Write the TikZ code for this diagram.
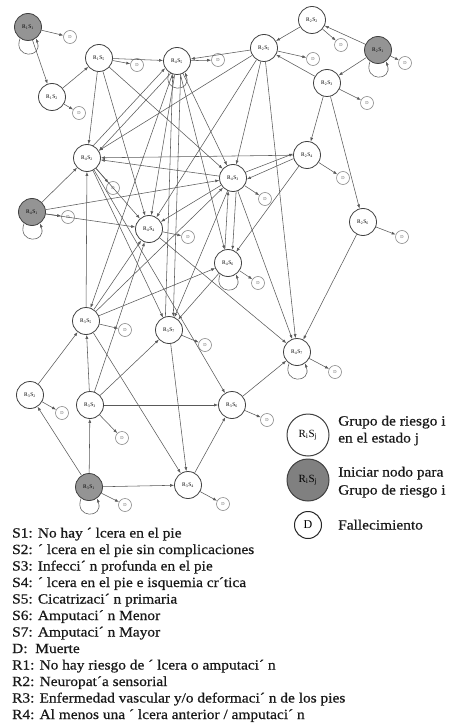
\documentclass[tikz,border=0pt]{standalone}
\usepackage{fontspec}
\setmainfont{Liberation Serif}[FakeStretch=1.1,FakeBold=0.6]
\newfontfamily\lblfont{Liberation Serif}
\usetikzlibrary{arrows.meta}
\newcommand\rsl[2]{R\textsubscript{#1}S\textsubscript{#2}}
\tikzset{
  st/.style={circle, draw=black!75, line width=0.8pt, fill=white, minimum size=27pt, inner sep=0pt, font=\lblfont\fontsize{5.5}{6}\selectfont},
  ini/.style={st, fill=black!42},
  dd/.style={circle, draw=black!45, line width=0.6pt, fill=white, minimum size=13pt, inner sep=0pt, font=\lblfont\fontsize{4.5}{5}\selectfont, text=black!60},
  arr/.style={draw=black!65, line width=0.55pt, -{Latex[length=4pt,width=3pt]}},
  lp/.style={arr, out=-110, in=-70, looseness=3.5},
  txt/.style={anchor=base west, inner sep=0pt, font=\fontsize{14}{16}\selectfont, text=black!90},
}
\begin{document}
\begin{tikzpicture}[x=1pt,y=1pt]
\useasboundingbox (0,0) rectangle (450,-727);
% nodes
\node[ini] (g1) at (28,-27) {\rsl11};
\node[dd] (dg1) at (70,-37) {D};
\node[st] (a) at (52,-97) {\rsl12};
\node[dd] (da) at (79,-113) {D};
\node[st] (b) at (99,-58) {\rsl15};
\node[dd] (db) at (137,-65) {D};
\node[st] (c) at (177,-61) {\rsl45};
\node[dd] (dc) at (218,-60) {D};
\node[st] (e) at (312,-20) {\rsl22};
\node[dd] (de) at (341,-45) {D};
\node[st] (f) at (264,-48) {\rsl25};
\node[dd] (df) at (313,-59) {D};
\node[ini] (g2) at (378,-50) {\rsl21};
\node[dd] (dg2) at (405,-63) {D};
\node[st] (h) at (327,-83) {\rsl23};
\node[dd] (dh) at (367,-103) {D};
\node[st] (i) at (307,-155) {\rsl24};
\node[dd] (di) at (343,-178) {D};
\node[st] (j) at (363,-222) {\rsl26};
\node[dd] (dj) at (402,-237) {D};
\node[st] (k) at (87,-158) {\rsl42};
\node[dd] (dk) at (113,-188) {D};
\node[ini] (g3) at (32,-212) {\rsl41};
\node[dd] (dg3) at (68,-217) {D};
\node[st] (l) at (149,-229) {\rsl44};
\node[dd] (dl) at (188,-237) {D};
\node[st] (m) at (233,-178) {\rsl43};
\node[dd] (dm) at (265,-199) {D};
\node[st] (n) at (228,-263) {\rsl46};
\node[dd] (dn) at (258,-283) {D};
\node[st] (o) at (86,-321) {\rsl35};
\node[dd] (do) at (125,-330) {D};
\node[st] (p) at (169,-330) {\rsl37};
\node[dd] (dp) at (205,-345) {D};
\node[st] (t) at (297,-352) {\rsl47};
\node[dd] (dt) at (335,-372) {D};
\node[st] (q) at (30,-395) {\rsl32};
\node[dd] (dq) at (62,-413) {D};
\node[st] (r) at (90,-405) {\rsl33};
\node[dd] (dr) at (122,-438) {D};
\node[st] (s) at (232,-405) {\rsl36};
\node[dd] (ds) at (267,-420) {D};
\node[ini] (g4) at (89,-487) {\rsl31};
\node[dd] (dg4) at (125,-505) {D};
\node[st] (u) at (188,-485) {\rsl34};
\node[dd] (du) at (223,-504) {D};
% loops
\draw[lp] (g1.-125) to (g1.-55);
\draw[lp] (g2.-125) to (g2.-55);
\draw[lp] (g3.-125) to (g3.-55);
\draw[lp] (g4.-125) to (g4.-55);
\draw[lp] (c.-125) to (c.-55);
\draw[lp] (n.-125) to (n.-55);
\draw[lp] (t.-125) to (t.-55);
% death arrows
\foreach \x in {g1,a,b,c,e,f,g2,h,i,j,k,g3,l,m,n,o,p,t,q,r,s,g4,u}
  \draw[arr] (\x) -- (d\x);
% transitions
\draw[arr] (g1) -- (a);
\draw[arr] (a) -- (b);
\draw[arr] (b) -- (c);
\draw[arr] (b) -- (k);
\draw[arr] (b) -- (l);
\draw[arr] (b) -- (m);
\draw[arr] (c.243) -- (k.31);
\draw[arr] (k.63) -- (c.211);
\draw[arr] (c.-75) -- (p.72);
\draw[arr] (p.105) -- (c.-108);
\draw[arr] (c) -- (o);
\draw[arr] (c) -- (l);
\draw[arr] (c) -- (m);
\draw[arr] (c) -- (n);
\draw[arr] (g2) -- (e);
\draw[arr] (g2) -- (h);
\draw[arr] (e) -- (f);
\draw[arr] (h) -- (f);
\draw[arr] (h) -- (i);
\draw[arr] (h) -- (j);
\draw[arr] (f) -- (c);
\draw[arr] (f) -- (k);
\draw[arr] (f) -- (l);
\draw[arr] (f) -- (m);
\draw[arr] (f) -- (t);
\draw[arr] (i) -- (k);
\draw[arr] (i.195) -- (m.-5);
\draw[arr] (m.25) -- (i.175);
\draw[arr] (i) -- (n);
\draw[arr] (j) -- (t);
\draw[arr] (g3) -- (k);
\draw[arr] (g3) -- (m);
\draw[arr] (g3) -- (l);
\draw[arr] (k) -- (l);
\draw[arr] (k) -- (p);
\draw[arr] (k) -- (s);
\draw[arr] (m) -- (k);
\draw[arr] (m) -- (l);
\draw[arr] (m.-77) -- (n.71);
\draw[arr] (n.103) -- (m.-110);
\draw[arr] (m) -- (t);
\draw[arr] (m) -- (p);
\draw[arr] (l) -- (t);
\draw[arr] (n) -- (p);
\draw[arr] (o) -- (k);
\draw[arr] (o) -- (l);
\draw[arr] (o) -- (m);
\draw[arr] (o) -- (n);
\draw[arr] (o) -- (u);
\draw[arr] (p) -- (u);
\draw[arr] (q) -- (o);
\draw[arr] (r) -- (o);
\draw[arr] (r) -- (l);
\draw[arr] (r) -- (p);
\draw[arr] (r) -- (s);
\draw[arr] (g4) -- (q);
\draw[arr] (g4) -- (r);
\draw[arr] (g4) -- (u);
\draw[arr] (u) -- (s);
\draw[arr] (s) -- (t);
% legend
\node[st, minimum size=42pt, line width=1pt, font=\lblfont\fontsize{11}{11}\selectfont] (lw) at (308,-435) {R\textsubscript{i}S\textsubscript{j}};
\node[ini, minimum size=42pt, line width=1pt, fill=black!50, font=\lblfont\fontsize{11}{11}\selectfont] (lg) at (308,-480) {R\textsubscript{i}S\textsubscript{j}};
\node[dd, minimum size=27pt, draw=black!85, line width=1pt, text=black, font=\lblfont\fontsize{12}{12}\selectfont] (ld) at (308,-525) {D};
\node[txt] (lt1) at (338,-425.5) {Grupo de riesgo i};
\node[txt] (lt2) at (338,-442.5) {en el estado j};
\node[txt] (lt3) at (338,-476.5) {Iniciar nodo para};
\node[txt] (lt4) at (338,-494.5) {Grupo de riesgo i};
\node[txt] (lt5) at (338,-529.5) {Fallecimiento};
% key
\node[txt] (k1) at (12,-537.5) {S1: No hay ´ lcera en el pie};
\node[txt] (k2) at (12,-554) {S2: ´ lcera en el pie sin complicaciones};
\node[txt] (k3) at (12,-570.5) {S3: Infecci´ n profunda en el pie};
\node[txt] (k4) at (12,-587) {S4: ´ lcera en el pie e isquemia cr´tica};
\node[txt] (k5) at (12,-603.5) {S5: Cicatrizaci´ n primaria};
\node[txt] (k6) at (12,-620) {S6: Amputaci´ n Menor};
\node[txt] (k7) at (12,-636.5) {S7: Amputaci´ n Mayor};
\node[txt] (k8) at (12,-653) {D:\ \ Muerte};
\node[txt] (k9) at (12,-669.5) {R1: No hay riesgo de ´ lcera o amputaci´ n};
\node[txt] (k10) at (12,-686) {R2: Neuropat´a sensorial};
\node[txt] (k11) at (12,-702.5) {R3: Enfermedad vascular y/o deformaci´ n de los pies};
\node[txt] (k12) at (12,-719) {R4: Al menos una ´ lcera anterior / amputaci´ n};
\end{tikzpicture}
\end{document}
